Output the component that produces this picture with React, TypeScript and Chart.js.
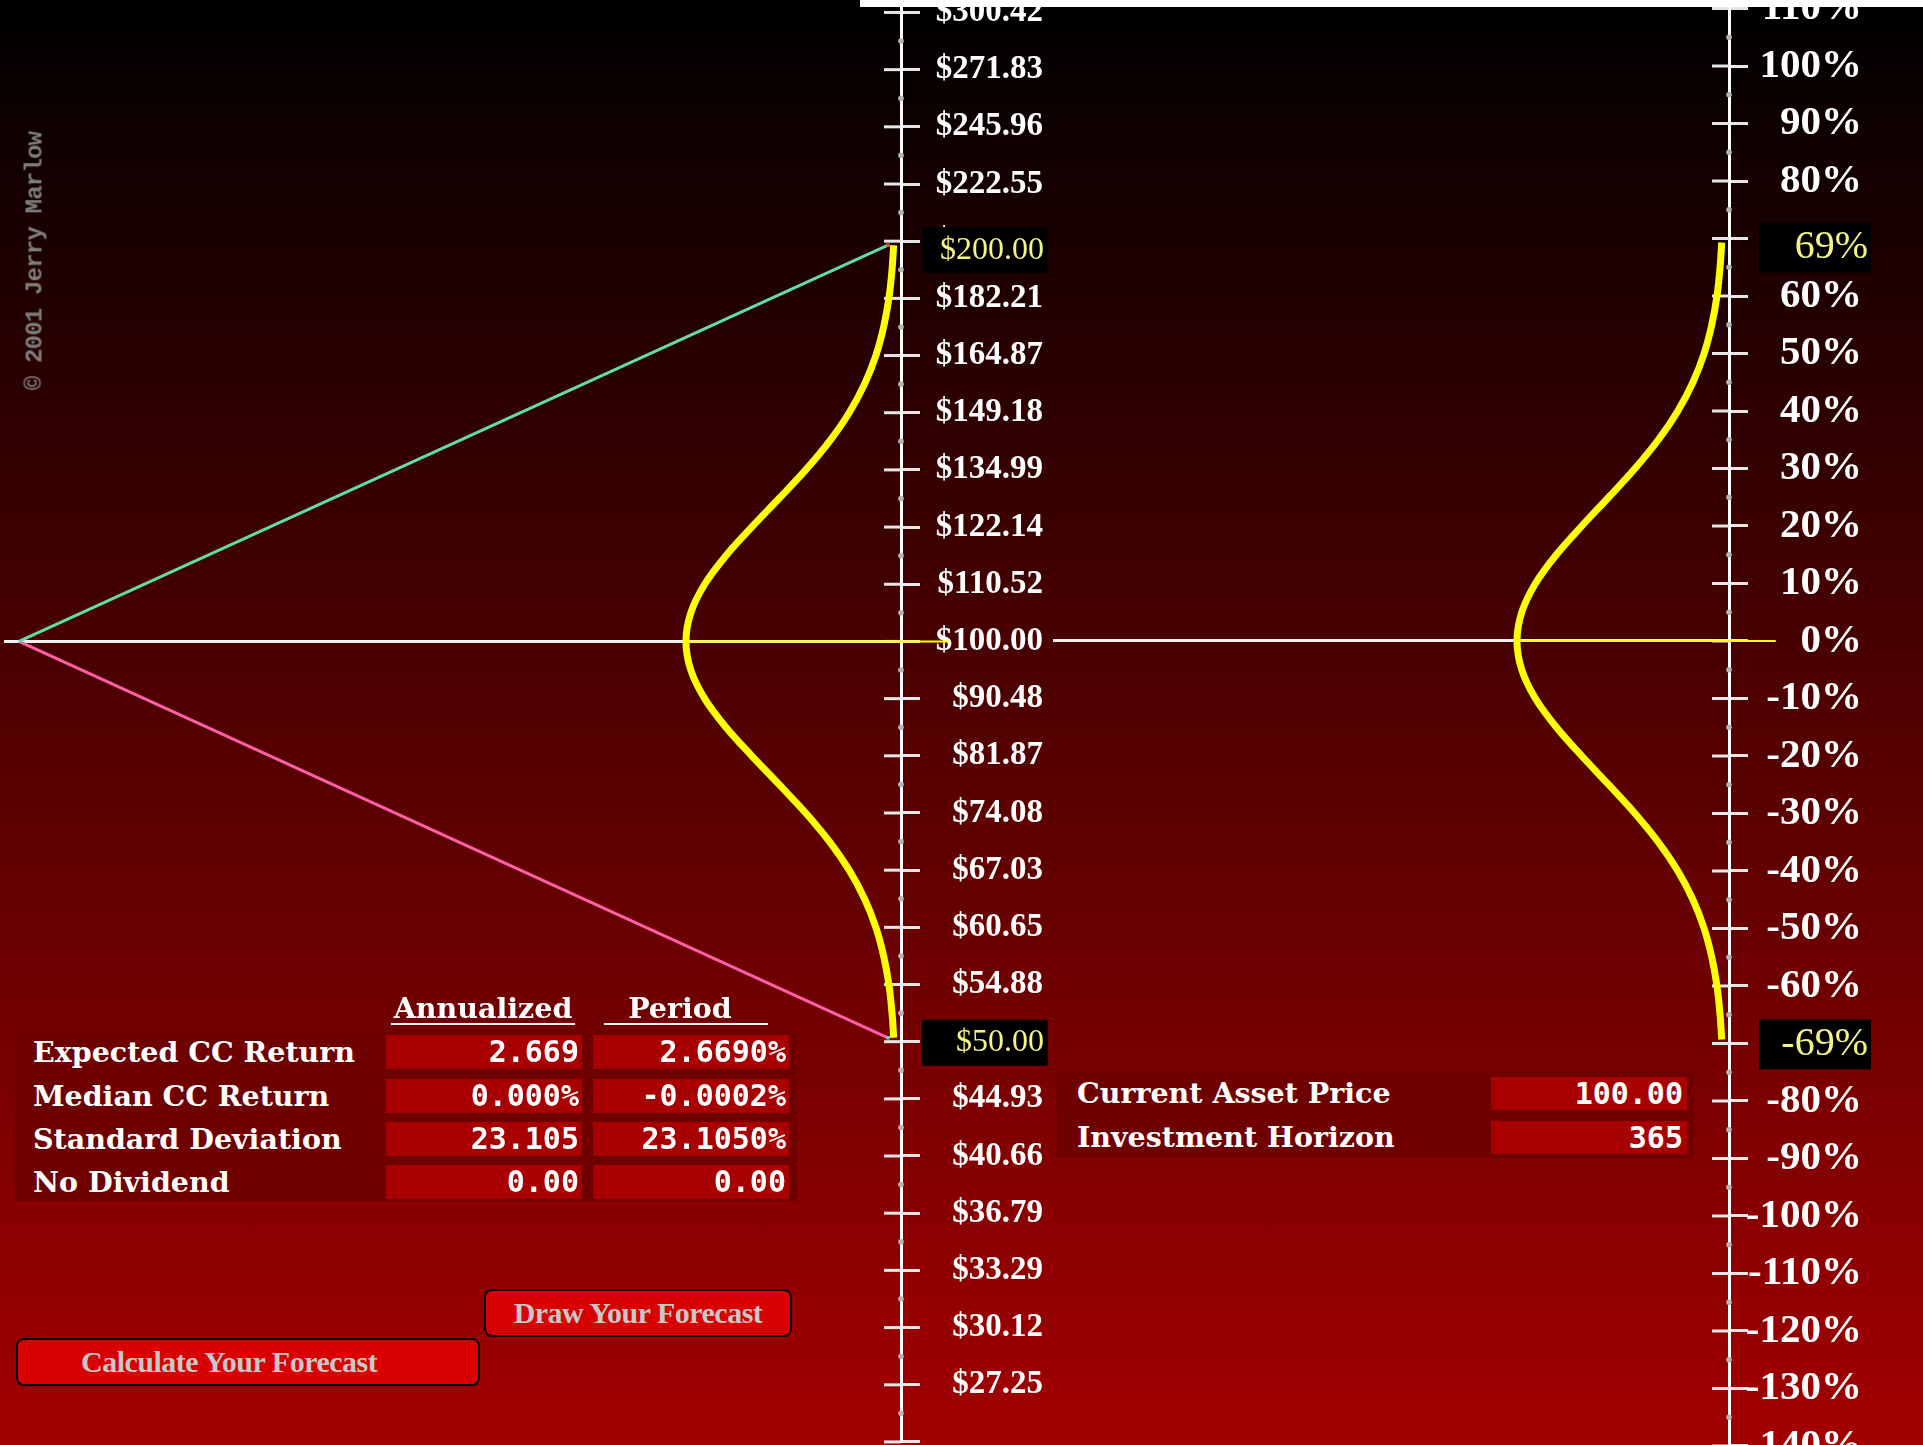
import React, { useEffect, useRef } from "react";
import { Chart, registerables } from "chart.js";

Chart.register(...registerables);

// ---------------- data ----------------
const HORIZON_DAYS = 365;
const CURRENT_PRICE = 100;
const HIGH_PRICE = 200;
const LOW_PRICE = 50;
const HIGH_RETURN_PCT = 69.3;
const LOW_RETURN_PCT = -69.3;

const PRICE_TICKS = [
  24.66, 27.25, 30.12, 33.29, 36.79, 40.66, 44.93, 49.66, 54.88, 60.65, 67.03, 74.08, 81.87,
  90.48, 100.0, 110.52, 122.14, 134.99, 149.18, 164.87, 182.21, 201.38, 222.55, 245.96, 271.83, 300.42,
];
const PRICE_LABELS = [
  "", "$27.25", "$30.12", "$33.29", "$36.79", "$40.66", "$44.93", "$49.66", "$54.88", "$60.65", "$67.03",
  "$74.08", "$81.87", "$90.48", "$100.00", "$110.52", "$122.14", "$134.99", "$149.18", "$164.87",
  "$182.21", "$201.38", "$222.55", "$245.96", "$271.83", "$300.42",
];
const PCT_TICKS = [
  -140, -130, -120, -110, -100, -90, -80, -70, -60, -50, -40, -30, -20, -10, 0, 10, 20, 30, 40, 50, 60,
  70, 80, 90, 100, 110,
];
const PCT_LABELS = [
  "-140%", "-130%", "-120%", "-110%", "-100%", "-90%", "-80%", "-70%", "-60%", "-50%", "-40%", "-30%",
  "-20%", "-10%", "0%", "10%", "20%", "30%", "40%", "50%", "60%", "70%", "80%", "90%", "100%", "110%",
];

// distribution curve: log-return level (%) and relative density
const CURVE_RETURNS_PCT = [
  -69.3, -65, -60, -55, -50, -45, -40, -35, -30, -25, -20, -15, -10, -5, 0, 5, 10, 15, 20, 25, 30, 35,
  40, 45, 50, 55, 60, 65, 69.3,
];
const CURVE_DENSITY = [
  0.011, 0.019, 0.034, 0.059, 0.096, 0.15, 0.223, 0.317, 0.43, 0.557, 0.687, 0.81, 0.911, 0.977, 1.0,
  0.977, 0.911, 0.81, 0.687, 0.557, 0.43, 0.317, 0.223, 0.15, 0.096, 0.059, 0.034, 0.019, 0.011,
];
const MEDIAN_LINE_END = -0.25; // median marker runs past the axis

const STAT_ROWS = ["Expected CC Return", "Median CC Return", "Standard Deviation", "No Dividend"];
const ANNUALIZED = ["2.669", "0.000%", "23.105", "0.00"];
const PERIOD = ["2.6690%", "-0.0002%", "23.1050%", "0.00"];
const INPUT_ROWS = ["Current Asset Price", "Investment Horizon"];
const INPUT_VALUES = ["100.00", "365"];
const HEADERS = ["Annualized", "Period"];
const BUTTONS = ["Draw Your Forecast", "Calculate Your Forecast"];
const COPYRIGHT = "© 2001 Jerry Marlow";

// axis ranges
const PRICE_MIN = 24.7;
const PRICE_MAX = 304.9;
const PCT_MIN = -139.83;
const PCT_MAX = 111.48;

// ---------------- layout ----------------
const L_CANVAS_W = 1060;
const L_PAD_RIGHT = 17;
const L_AXIS_W = 142;
const L_AREA_W = L_CANVAS_W - L_PAD_RIGHT - L_AXIS_W; // 901
const L_X0 = 15;
const L_PX_PER_DAY = 873 / 365;
const L_BASE_GAP = 5;
const L_PEAK = 211;

const R_LEFT = 1043;
const R_CANVAS_W = 880;
const R_PAD_LEFT = 10;
const R_PAD_RIGHT = 61;
const R_AXIS_W = 133;
const R_AREA_W = R_CANVAS_W - R_PAD_LEFT - R_PAD_RIGHT - R_AXIS_W; // 676
const R_BASE_GAP = 5;
const R_PEAK = 207;

const H = 1445;

function axisPlugin(
  id: string,
  highlights: { value: number; label: string }[],
  box: { left: number; right: number; h: number; textRight: number; font: string }
) {
  return {
    id,
    beforeDatasetsDraw(chart: any) {
      const s = chart.scales.y;
      const ctx = chart.ctx;
      const ax = chart.chartArea.right;
      const px: number[] = s.ticks.map((t: any) => s.getPixelForValue(t.value));
      ctx.save();
      ctx.strokeStyle = "#e6e6e6";
      ctx.lineWidth = 3;
      px.forEach((p) => {
        ctx.beginPath();
        ctx.moveTo(ax - 17, p);
        ctx.lineTo(ax, p);
        ctx.stroke();
      });
      ctx.fillStyle = "#b5b5b5";
      for (let i = 0; i < px.length - 1; i++) {
        const m = (px[i] + px[i + 1]) / 2;
        ctx.beginPath();
        ctx.arc(ax, m, 2.8, 0, Math.PI * 2);
        ctx.fill();
      }
      ctx.restore();
    },
    afterDraw(chart: any) {
      const s = chart.scales.y;
      const ctx = chart.ctx;
      const ax = chart.chartArea.right;
      ctx.save();
      highlights.forEach((h) => {
        const cy = s.getPixelForValue(h.value) + 5;
        ctx.fillStyle = "#000000";
        ctx.fillRect(ax + box.left, cy - box.h / 2, box.right - box.left, box.h);
        ctx.fillStyle = "#f4f484";
        ctx.font = box.font;
        ctx.textAlign = "right";
        ctx.textBaseline = "middle";
        ctx.fillText(h.label, ax + box.textRight, cy);
      });
      ctx.restore();
    },
  };
}

function yAxisOptions(
  type: string,
  min: number,
  max: number,
  ticks: number[],
  labels: string[],
  zeroValue: number,
  axisW: number,
  fontSize: number
) {
  return {
    type,
    position: "right",
    min,
    max,
    bounds: "data",
    afterBuildTicks: (s: any) => {
      s.ticks = ticks.map((v) => ({ value: v }));
    },
    afterFit: (s: any) => {
      s.width = axisW;
      s.paddingTop = 0;
      s.paddingBottom = 0;
    },
    grid: {
      display: true,
      drawOnChartArea: true,
      drawTicks: true,
      tickLength: 19,
      lineWidth: 3,
      tickWidth: 3,
      tickColor: "#e6e6e6",
      color: (c: any) =>
        c.tick && Math.abs(c.tick.value - zeroValue) < 1e-6 ? "#f2f2f2" : "rgba(0,0,0,0)",
    },
    border: { display: true, color: "#ffffff", width: 3 },
    ticks: {
      autoSkip: false,
      crossAlign: "far",
      color: "#ffffff",
      font: { family: "'Liberation Serif'", size: fontSize, weight: "bold" },
      callback: (_v: any, i: number) => labels[i],
    },
  };
}

export default function App() {
  const lRef = useRef<HTMLCanvasElement>(null);
  const rRef = useRef<HTMLCanvasElement>(null);

  useEffect(() => {
    const dayMin = -L_X0 / L_PX_PER_DAY;
    const dayMax = dayMin + L_AREA_W / L_PX_PER_DAY;
    const ldMin = -L_BASE_GAP / L_PEAK;
    const ldMax = ldMin + L_AREA_W / L_PEAK;
    const rdMin = -R_BASE_GAP / R_PEAK;
    const rdMax = rdMin + R_AREA_W / R_PEAK;

    const curvePrice = CURVE_RETURNS_PCT.map((r, i) => ({
      x: CURVE_DENSITY[i],
      y: CURRENT_PRICE * Math.exp(r / 100),
    }));
    const curvePct = CURVE_RETURNS_PCT.map((r, i) => ({ x: CURVE_DENSITY[i], y: r }));

    const common: any = {
      responsive: false,
      maintainAspectRatio: false,
      animation: false,
      events: [],
      plugins: { legend: { display: false }, tooltip: { enabled: false } },
    };

    const curveStyle = {
      indexAxis: "y",
      cubicInterpolationMode: "monotone",
      borderColor: "#ffff00",
      borderWidth: 7,
      pointRadius: 0,
      clip: false,
      fill: false,
      borderJoinStyle: "round",
    };

    const chartL = new Chart(lRef.current as HTMLCanvasElement, {
      type: "line",
      data: {
        datasets: [
          { data: curvePrice, xAxisID: "xd", yAxisID: "y", ...curveStyle },
          {
            data: [
              { x: 1, y: CURRENT_PRICE },
              { x: MEDIAN_LINE_END, y: CURRENT_PRICE },
            ],
            xAxisID: "xd",
            yAxisID: "y",
            borderColor: "#ffff00",
            borderWidth: 2,
            pointRadius: 0,
            clip: false,
          },
          {
            data: [
              { x: 0, y: CURRENT_PRICE },
              { x: HORIZON_DAYS, y: HIGH_PRICE },
            ],
            xAxisID: "x",
            yAxisID: "y",
            borderColor: "#62dca6",
            borderWidth: 3,
            pointRadius: [0, 2.5],
            pointStyle: "rect",
            pointBackgroundColor: "#d8553a",
            pointBorderWidth: 0,
            clip: false,
          },
          {
            data: [
              { x: 0, y: CURRENT_PRICE },
              { x: HORIZON_DAYS, y: LOW_PRICE },
            ],
            xAxisID: "x",
            yAxisID: "y",
            borderColor: "#ff5ea8",
            borderWidth: 3,
            pointRadius: [0, 2.5],
            pointStyle: "rect",
            pointBackgroundColor: "#5ad8d8",
            pointBorderWidth: 0,
            clip: false,
          },
        ],
      },
      options: {
        ...common,
        layout: { padding: { left: 0, right: L_PAD_RIGHT, top: 0, bottom: 0 } },
        scales: {
          x: { type: "linear", display: false, min: dayMin, max: dayMax },
          xd: { type: "linear", display: false, reverse: true, min: ldMin, max: ldMax },
          y: yAxisOptions(
            "logarithmic",
            PRICE_MIN,
            PRICE_MAX,
            PRICE_TICKS,
            PRICE_LABELS,
            CURRENT_PRICE,
            L_AXIS_W,
            33
          ),
        },
      } as any,
      plugins: [
        axisPlugin(
          "priceAxisExtras",
          [
            { value: HIGH_PRICE, label: "$" + HIGH_PRICE.toFixed(2) },
            { value: LOW_PRICE, label: "$" + LOW_PRICE.toFixed(2) },
          ],
          { left: 21, right: 147, h: 46, textRight: 143, font: "32px 'Liberation Serif'" }
        ),
      ],
    } as any);

    const chartR = new Chart(rRef.current as HTMLCanvasElement, {
      type: "line",
      data: {
        datasets: [
          { data: curvePct, xAxisID: "x", yAxisID: "y", ...curveStyle },
          {
            data: [
              { x: 1, y: 0 },
              { x: MEDIAN_LINE_END, y: 0 },
            ],
            xAxisID: "x",
            yAxisID: "y",
            borderColor: "#ffff00",
            borderWidth: 2,
            pointRadius: 0,
            clip: false,
          },
        ],
      },
      options: {
        ...common,
        layout: { padding: { left: R_PAD_LEFT, right: R_PAD_RIGHT, top: 0, bottom: 0 } },
        scales: {
          x: { type: "linear", display: false, reverse: true, min: rdMin, max: rdMax },
          y: yAxisOptions("linear", PCT_MIN, PCT_MAX, PCT_TICKS, PCT_LABELS, 0, R_AXIS_W, 41),
        },
      } as any,
      plugins: [
        axisPlugin(
          "pctAxisExtras",
          [
            { value: HIGH_RETURN_PCT, label: Math.round(HIGH_RETURN_PCT) + "%" },
            { value: LOW_RETURN_PCT, label: Math.round(LOW_RETURN_PCT) + "%" },
          ],
          { left: 30, right: 142, h: 50, textRight: 139, font: "40px 'Liberation Serif'" }
        ),
      ],
    } as any);

    return () => {
      chartL.destroy();
      chartR.destroy();
    };
  }, []);

  const labelFont: React.CSSProperties = {
    fontFamily: "'DejaVu Serif', serif",
    fontWeight: "bold",
    fontSize: 28.5,
    color: "#ffffff",
    whiteSpace: "nowrap",
  };
  const valueFont: React.CSSProperties = {
    fontFamily: "'DejaVu Sans Mono', monospace",
    fontWeight: "bold",
    fontSize: 30,
    color: "#ffffff",
    whiteSpace: "nowrap",
  };
  const abs = (l: number, t: number, w: number, h: number): React.CSSProperties => ({
    position: "absolute",
    left: l,
    top: t,
    width: w,
    height: h,
  });
  const buttonStyle: React.CSSProperties = {
    boxSizing: "border-box",
    border: "2px solid #000000",
    borderRadius: 8,
    background: "#d80000",
    color: "#c8c8c8",
    fontFamily: "'Liberation Serif', serif",
    fontWeight: "bold",
    fontSize: 30,
    letterSpacing: -0.5,
    lineHeight: "44px",
    whiteSpace: "nowrap",
  };

  const statTops = [1035, 1079, 1122, 1165];
  const inputTops = [1077, 1121];

  return (
    <div
      style={{
        position: "fixed",
        left: 0,
        top: 0,
        width: 1923,
        height: H,
        overflow: "hidden",
        background: "linear-gradient(to bottom, #000000 0%, #a30000 100%)",
      }}
    >
      <canvas
        ref={lRef}
        width={L_CANVAS_W}
        height={H}
        style={{ position: "absolute", left: 0, top: 0, width: L_CANVAS_W, height: H }}
      />
      <canvas
        ref={rRef}
        width={R_CANVAS_W}
        height={H}
        style={{ position: "absolute", left: R_LEFT, top: 0, width: R_CANVAS_W, height: H }}
      />
      <div style={{ ...abs(860, 0, 1063, 7), background: "#ffffff" }} />

      {/* copyright */}
      <div
        style={{
          position: "absolute",
          left: 35,
          top: 261,
          transform: "translate(-50%, -50%) rotate(-90deg)",
          fontFamily: "'Liberation Mono', monospace",
          fontWeight: "bold",
          fontSize: 24,
          letterSpacing: -0.8,
          color: "#7e7e7e",
          whiteSpace: "nowrap",
        }}
      >
        {COPYRIGHT}
      </div>

      {/* statistics table */}
      <div style={{ ...abs(15, 1029, 782, 172), background: "#6e0000" }} />
      <div
        style={{
          ...abs(391, 993, 184, 30),
          ...labelFont,
          textAlign: "center",
          lineHeight: "30px",
          borderBottom: "2px solid #ffffff",
        }}
      >
        {HEADERS[0]}
      </div>
      <div
        style={{
          ...abs(604, 993, 164, 30),
          ...labelFont,
          textAlign: "center",
          lineHeight: "30px",
          borderBottom: "2px solid #ffffff",
        }}
      >
        <span style={{ position: "relative", left: -6 }}>{HEADERS[1]}</span>
      </div>
      {STAT_ROWS.map((r, i) => (
        <React.Fragment key={r}>
          <div style={{ ...abs(33, statTops[i], 350, 34), ...labelFont, lineHeight: "34px" }}>{r}</div>
          <div
            style={{
              ...abs(386, statTops[i], 196, 34),
              background: "#a80000",
              ...valueFont,
              lineHeight: "34px",
              textAlign: "right",
              boxSizing: "border-box",
              paddingRight: 3,
            }}
          >
            {ANNUALIZED[i]}
          </div>
          <div
            style={{
              ...abs(593, statTops[i], 196, 34),
              background: "#a80000",
              ...valueFont,
              lineHeight: "34px",
              textAlign: "right",
              boxSizing: "border-box",
              paddingRight: 3,
            }}
          >
            {PERIOD[i]}
          </div>
        </React.Fragment>
      ))}

      {/* inputs table */}
      <div style={{ ...abs(1057, 1072, 637, 86), background: "#6e0000" }} />
      {INPUT_ROWS.map((r, i) => (
        <React.Fragment key={r}>
          <div style={{ ...abs(1077, inputTops[i], 400, 33), ...labelFont, lineHeight: "33px" }}>{r}</div>
          <div
            style={{
              ...abs(1491, inputTops[i], 196, 33),
              background: "#a80000",
              ...valueFont,
              lineHeight: "33px",
              textAlign: "right",
              boxSizing: "border-box",
              paddingRight: 4,
            }}
          >
            {INPUT_VALUES[i]}
          </div>
        </React.Fragment>
      ))}

      {/* buttons */}
      <div style={{ ...abs(484, 1289, 308, 48), ...buttonStyle, textAlign: "center" }}>{BUTTONS[0]}</div>
      <div style={{ ...abs(16, 1338, 464, 48), ...buttonStyle, paddingLeft: 63 }}>{BUTTONS[1]}</div>
    </div>
  );
}
